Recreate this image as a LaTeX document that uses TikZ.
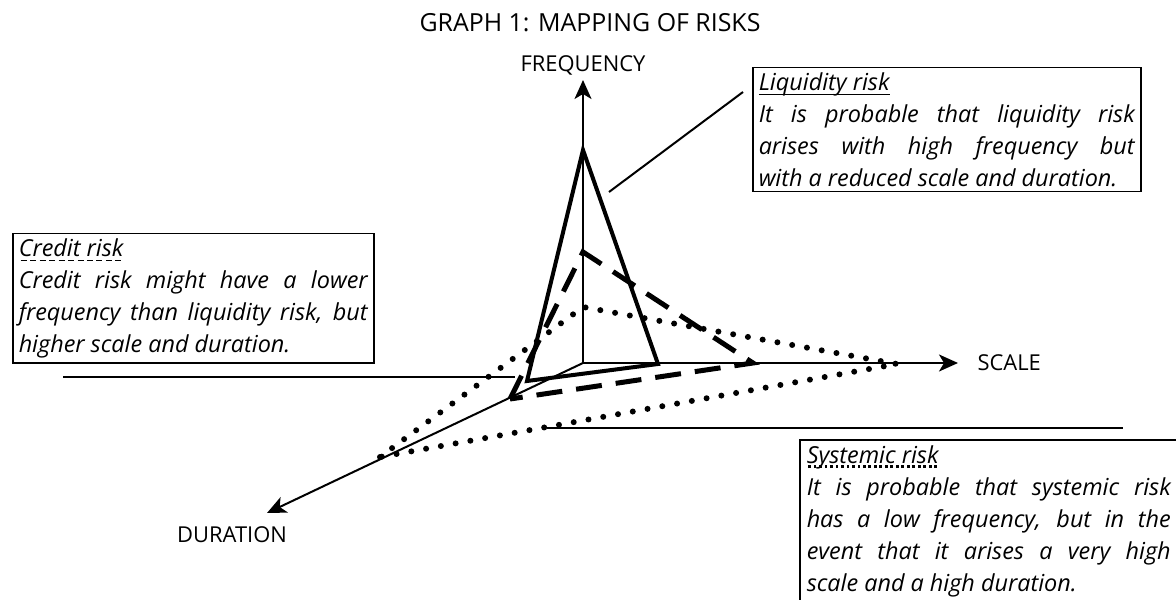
\documentclass[tikz,border=0pt]{standalone}
\usepackage{fontspec}
\setmainfont{Open Sans}
\usetikzlibrary{arrows.meta}
\usetikzlibrary{positioning}

% underlines of the three headings
\newcommand{\ulwith}[2]{\setbox0\hbox{#2}\rlap{\raisebox{-4.5pt}{\hbox to \wd0{#1\hfill}}}#2}
\newcommand{\ulsolid}[1]{\ulwith{\leaders\hrule height 1.4pt}{#1}}
\newcommand{\uldash}[1]{\ulwith{\xleaders\hbox to 9pt{\hss\vrule width 6pt height 1.4pt\hss}}{#1}}
\newcommand{\uldot}[1]{\ulwith{\xleaders\hbox to 5.5pt{\hss\vrule width 2.8pt height 2.8pt\hss}}{#1}}

\tikzset{
  axis/.style={line width=2bp, -{Stealth[length=19bp,width=17bp,inset=5bp]}},
  axislabel/.style={font=\fontsize{22}{26}\selectfont},
  riskbox/.style={draw, line width=1.5bp, inner xsep=6bp, inner ysep=5bp, text width=#1, align=justify, font=\fontsize{23.5}{32}\selectfont\itshape},
  liquid/.style={line width=4bp, line join=miter},
  credit/.style={line width=5bp, dash pattern=on 26bp off 14bp},
  systemic/.style={line width=6bp, line cap=round, dash pattern=on 0bp off 15bp},
  pointer/.style={line width=2bp}
}

\begin{document}
\begin{tikzpicture}[x=1bp,y=-1bp]
\useasboundingbox (0,0) rectangle (1176,600);
\clip (0,0) rectangle (1176,600);

% title and axes
\node[font=\fontsize{25}{30}\selectfont] (title) at (590,23) {GRAPH 1: MAPPING OF RISKS};
\coordinate (O) at (583,363);
\coordinate (F) at (583,80);
\coordinate (S) at (958,363);
\coordinate (D) at (267,513);
\draw[axis] (O) -- (F);
\draw[axis] (O) -- (S);
\draw[axis] (O) -- (D);
\node[axislabel, above=1bp of F] (freq) {FREQUENCY};
\node[axislabel, right=16bp of S] (scale) {SCALE};
\node[axislabel] (dur) at (232,535) {DURATION};

% the three risks
\coordinate (l1) at (527,381);
\coordinate (a1) at (583,150);
\coordinate (r1) at (658,364);
\draw[liquid] (l1) -- (a1) -- (r1) -- cycle;
\coordinate (l2) at (510,399);
\coordinate (a2) at (583,252);
\coordinate (r2) at (753,363);
\draw[credit] (l2) -- (a2) -- (r2) -- cycle;
\coordinate (l3) at (380,457);
\coordinate (a3) at (583,307);
\coordinate (r3) at (897,364);
\draw[systemic] (l3) -- (a3) -- (r3) -- cycle;

% boxes
\node[riskbox=376bp, anchor=north west] (liqbox) at (752,67)
  {\ulsolid{Liquidity risk}\\ It is probable that liquidity risk\linebreak arises with high frequency but\linebreak with a reduced scale and duration.};
\node[riskbox=349bp, anchor=north west] (credbox) at (12,233)
  {\uldash{Credit risk}\\ Credit risk might have a lower\linebreak frequency than liquidity risk, but\linebreak higher scale and duration.};
\draw[line width=1.5bp] (800,440) rectangle (1190,610);
\node[riskbox=364bp, draw=none, anchor=north west] (sysbox) at (800,440)
  {\uldot{Systemic risk}\\ It is probable that systemic risk\linebreak has a low frequency, but in the\linebreak event that it arises a very high\linebreak scale and a high duration.};

% pointers
\coordinate (liqfrom) at (609,192);
\coordinate (liqto) at (743,92);
\draw[pointer] (liqfrom) -- (liqto);
\coordinate (credfrom) at (63,377);
\coordinate (credto) at (515,377);
\draw[pointer] (credfrom) -- (credto);
\coordinate (sysfrom) at (547,428);
\coordinate (systo) at (1123,428);
\draw[pointer] (sysfrom) -- (systo);
\end{tikzpicture}
\end{document}
